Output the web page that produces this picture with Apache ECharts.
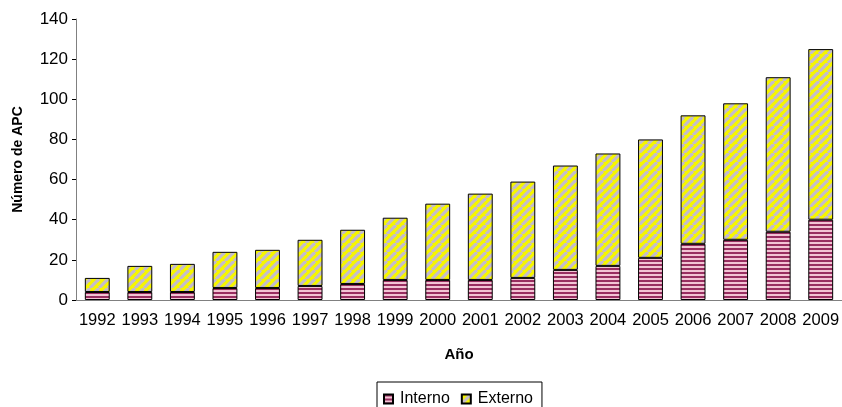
<!DOCTYPE html>
<html>
<head>
<meta charset="utf-8">
<script src="https://cdn.jsdelivr.net/npm/echarts@6/dist/echarts.min.js"></script>
<style>
  html, body { margin: 0; padding: 0; background: #fff; }
  #chart { width: 842px; height: 407px; }
</style>
</head>
<body>
<div id="chart"></div>
<script>
  const years = ['1992', '1993', '1994', '1995', '1996', '1997', '1998', '1999', '2000',
    '2001', '2002', '2003', '2004', '2005', '2006', '2007', '2008', '2009'];
  const interno = [4, 4, 4, 6, 6, 7, 8, 10, 10, 10, 11, 15, 17, 21, 28, 30, 34, 40];
  const total = [11, 17, 18, 24, 25, 30, 35, 41, 48, 53, 59, 67, 73, 80, 92, 98, 111, 125];
  const externo = total.map((t, i) => t - interno[i]);

  // trama horizontal (Interno)
  function stripesH() {
    let c = document.createElement('canvas');
    c.width = 4; c.height = 4;
    let ctx = c.getContext('2d');
    ctx.fillStyle = '#f2c4d4';
    ctx.fillRect(0, 0, 4, 4);
    ctx.fillStyle = '#982e60';
    ctx.fillRect(0, 0, 4, 2);
    return c;
  }
  // trama diagonal (Externo)
  function stripesD() {
    let s = 9;
    let c = document.createElement('canvas');
    c.width = s; c.height = s;
    let ctx = c.getContext('2d');
    ctx.fillStyle = '#f6f600';
    ctx.fillRect(0, 0, s, s);
    ctx.strokeStyle = '#c4bccc';
    ctx.lineWidth = 3.2;
    for (let k = -1; k <= 1; k++) {
      ctx.beginPath();
      ctx.moveTo(k * s, s);
      ctx.lineTo(k * s + s, 0);
      ctx.stroke();
    }
    return c;
  }

  let chart = echarts.init(document.getElementById('chart'));
  let font = 'Liberation Sans, Arial, sans-serif';

  let option = {
    animation: false,
    backgroundColor: '#fff',
    grid: { left: 76, right: -3, top: 19, bottom: 107 },
    legend: {
      top: 382,
      left: 377,
      icon: 'rect',
      itemWidth: 9,
      itemHeight: 9,
      itemGap: 11,
      padding: [9, 9, 4, 6],
      borderColor: '#000',
      borderWidth: 1,
      borderRadius: 0,
      textStyle: { fontFamily: font, fontSize: 16, color: '#000', padding: [0, 0, 0, 2] },
      data: ['Interno', 'Externo']
    },
    xAxis: {
      type: 'category',
      data: years,
      name: 'Año',
      nameLocation: 'middle',
      nameGap: 47,
      nameTextStyle: { fontFamily: font, fontSize: 15, fontWeight: 'bold', color: '#000' },
      axisLine: { lineStyle: { color: '#808080', width: 1 } },
      axisTick: { length: 4, lineStyle: { color: '#000' } },
      axisLabel: { fontFamily: font, fontSize: 16.5, color: '#000', margin: 12, interval: 0 }
    },
    yAxis: {
      type: 'value',
      min: 0,
      max: 140,
      interval: 20,
      name: 'Número de APC',
      nameLocation: 'middle',
      nameGap: 51,
      nameTextStyle: { fontFamily: font, fontSize: 14, fontWeight: 'bold', color: '#000' },
      splitLine: { show: false },
      axisLine: { show: true, lineStyle: { color: '#808080', width: 1 } },
      axisTick: { show: true, length: 4, lineStyle: { color: '#000' } },
      axisLabel: { fontFamily: font, fontSize: 17, color: '#000', margin: 8 }
    },
    series: [
      {
        name: 'Interno',
        type: 'bar',
        stack: 'apc',
        barWidth: '58.5%',
        data: interno,
        itemStyle: {
          color: { image: stripesH(), repeat: 'repeat' },
          borderColor: '#000',
          borderWidth: 1
        }
      },
      {
        name: 'Externo',
        type: 'bar',
        stack: 'apc',
        barWidth: '58.5%',
        data: externo,
        itemStyle: {
          color: { image: stripesD(), repeat: 'repeat' },
          borderColor: '#000',
          borderWidth: 1
        }
      }
    ]
  };

  chart.setOption(option);
</script>
</body>
</html>
